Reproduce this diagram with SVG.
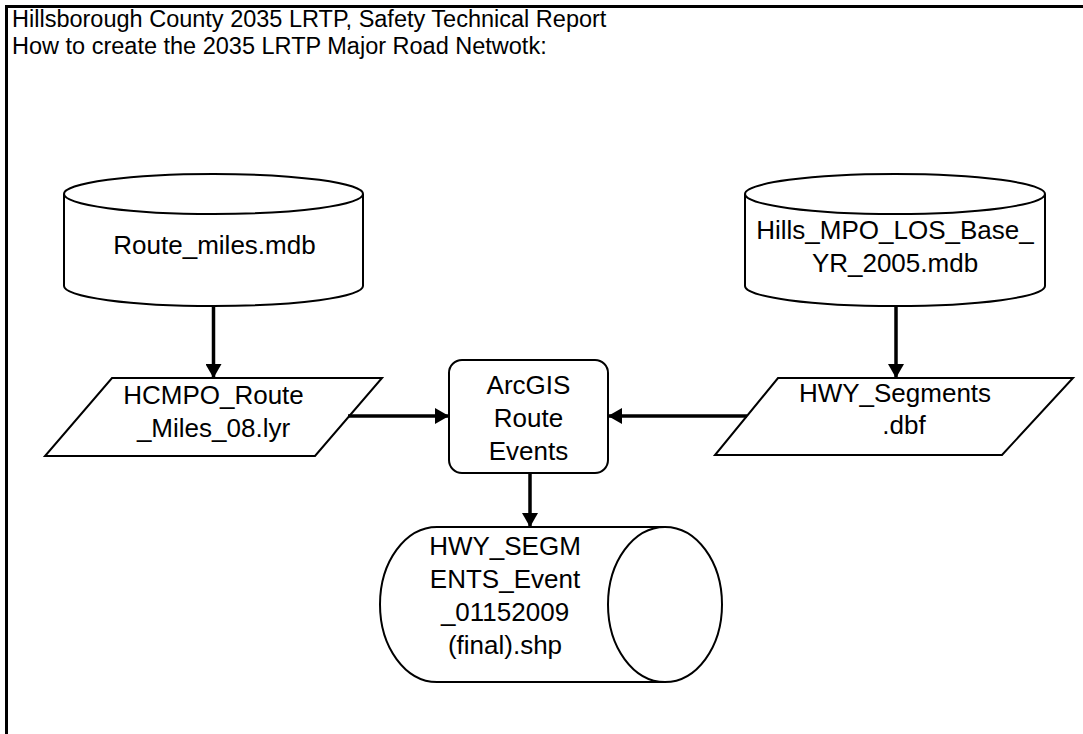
<svg xmlns="http://www.w3.org/2000/svg" width="1083" height="734" viewBox="0 0 1083 734">
  <defs>
    <style>
      .shape { fill: #ffffff; stroke: #000000; stroke-width: 2; }
      .label { font-family: "Liberation Sans", Arial, sans-serif; font-size: 26px; fill: #000000; text-anchor: middle; }
      .title { font-family: "Liberation Sans", Arial, sans-serif; font-size: 23.5px; fill: #000000; }
      .link { fill: none; stroke: #000000; stroke-width: 3.5; }
    </style>
    <marker id="arrow" markerWidth="16" markerHeight="16" refX="14" refY="8" orient="auto" markerUnits="userSpaceOnUse">
      <path d="M0,0 L14,8 L0,16 Z" fill="#000000"/>
    </marker>
  </defs>

  <rect width="1083" height="734" fill="#ffffff"/>

  <!-- page frame, open to the right and bottom -->
  <rect x="6.5" y="6.5" width="1120" height="760" fill="none" stroke="#000000" stroke-width="3"/>

  <g id="title">
    <text class="title" x="12" y="27">Hillsborough County 2035 LRTP, Safety Technical Report</text>
    <text class="title" x="12" y="54">How to create the 2035 LRTP Major Road Netwotk:</text>
  </g>

  <!-- database: Route_miles.mdb -->
  <g id="route-miles-mdb">
    <path class="shape" d="M64,194 L64,286 A149.5,20 0 0 0 363,286 L363,194"/>
    <ellipse class="shape" cx="213.5" cy="194" rx="149.5" ry="20"/>
    <text class="label" x="214.5" y="254">Route_miles.mdb</text>
  </g>

  <!-- database: Hills_MPO_LOS_Base_YR_2005.mdb -->
  <g id="hills-mpo-mdb">
    <path class="shape" d="M745,194 L745,286 A150,20 0 0 0 1045,286 L1045,194"/>
    <ellipse class="shape" cx="895" cy="194" rx="150" ry="20"/>
    <text class="label" x="895" y="239">Hills_MPO_LOS_Base_</text>
    <text class="label" x="895" y="272">YR_2005.mdb</text>
  </g>

  <!-- data: HCMPO_Route_Miles_08.lyr -->
  <g id="hcmpo-lyr">
    <polygon class="shape" points="112,378 382,378 315,456 45,456"/>
    <text class="label" x="213.5" y="404">HCMPO_Route</text>
    <text class="label" x="213.5" y="437">_Miles_08.lyr</text>
  </g>

  <!-- data: HWY_Segments.dbf -->
  <g id="hwy-segments-dbf">
    <polygon class="shape" points="778,378 1073,378 1002,455 715,455"/>
    <text class="label" x="895" y="402">HWY_Segments</text>
    <text class="label" x="904" y="434">.dbf</text>
  </g>

  <!-- process: ArcGIS Route Events -->
  <g id="arcgis-route-events">
    <rect class="shape" x="449" y="360" width="159" height="113" rx="13" ry="13"/>
    <text class="label" x="528.5" y="394">ArcGIS</text>
    <text class="label" x="528.5" y="427">Route</text>
    <text class="label" x="528.5" y="460">Events</text>
  </g>

  <!-- output shapefile, horizontal cylinder -->
  <g id="hwy-segments-event-shp">
    <path class="shape" d="M665,527 L437,527 A57,77.5 0 0 0 437,682 L665,682"/>
    <ellipse class="shape" cx="665" cy="604.5" rx="57" ry="77.5"/>
    <text class="label" x="505" y="555">HWY_SEGM</text>
    <text class="label" x="505" y="588">ENTS_Event</text>
    <text class="label" x="505" y="621">_01152009</text>
    <text class="label" x="505" y="654">(final).shp</text>
  </g>

  <g id="connectors">
    <line class="link" x1="213.5" y1="306" x2="213.5" y2="378" marker-end="url(#arrow)"/>
    <line class="link" x1="896" y1="306" x2="896" y2="378" marker-end="url(#arrow)"/>
    <line class="link" x1="348" y1="416" x2="449" y2="416" marker-end="url(#arrow)"/>
    <line class="link" x1="747" y1="416" x2="608" y2="416" marker-end="url(#arrow)"/>
    <line class="link" x1="530" y1="473" x2="530" y2="527" marker-end="url(#arrow)"/>
  </g>
</svg>
